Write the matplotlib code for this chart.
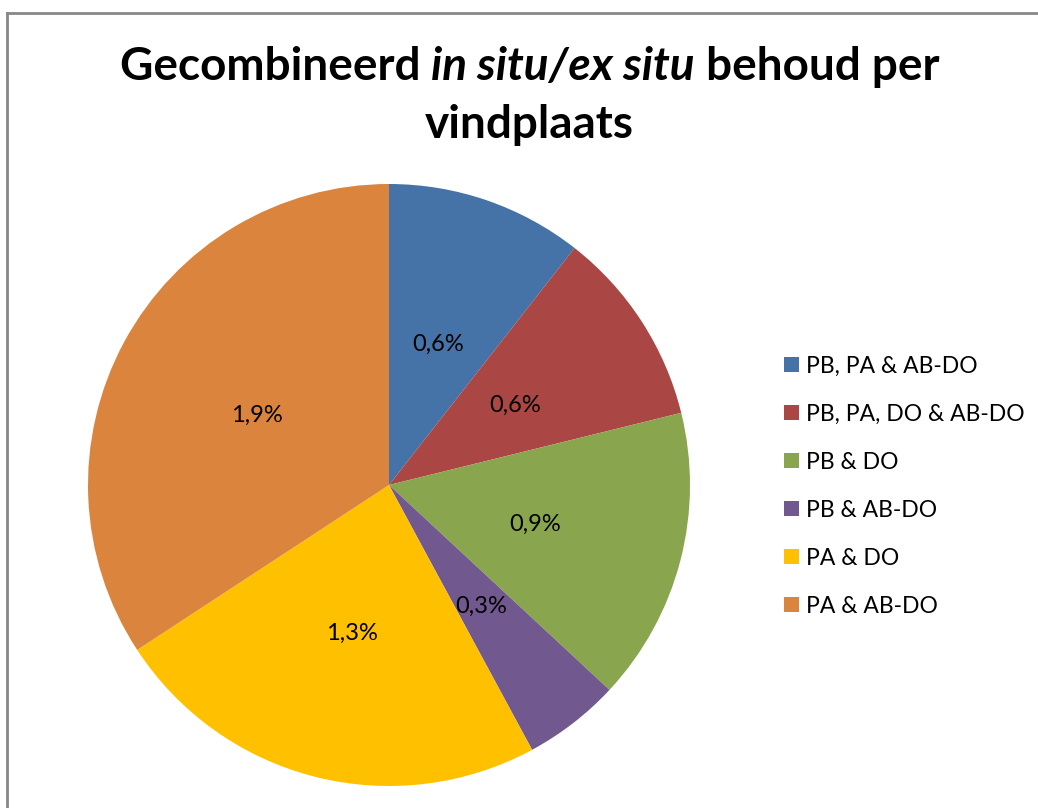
import matplotlib
matplotlib.use('Agg')
import matplotlib.pyplot as plt
from matplotlib.patches import Rectangle
from matplotlib.lines import Line2D

# data (slice sizes, labels as shown)
categories = ['PB, PA & AB-DO', 'PB, PA, DO & AB-DO', 'PB & DO',
              'PB & AB-DO', 'PA & DO', 'PA & AB-DO']
values = [0.59, 0.59, 0.88, 0.29, 1.32, 1.91]
value_labels = ['0,6%', '0,6%', '0,9%', '0,3%', '1,3%', '1,9%']
colors = ['#4572A7', '#AA4643', '#89A54E', '#71588F', '#FFC000', '#DB843D']

FONT = 'Lato'
W, H = 1038, 808
fig = plt.figure(figsize=(W / 100, H / 100), dpi=100)

# pie, centre (389,485) px, radius 301 px
cx, cy, r = 389, 485, 301
ax = fig.add_axes([(cx - r) / W, (H - cy - r) / H, 2 * r / W, 2 * r / H])
wedges, texts = ax.pie(values, colors=colors, startangle=90, counterclock=False,
                       labels=value_labels, labeldistance=0.5,
                       wedgeprops=dict(linewidth=0))
for t in texts:
    t.set_fontfamily(FONT)
    t.set_fontsize(17)
    t.set_ha('center')
    t.set_va('center_baseline')
ax.set_xlim(-1, 1)
ax.set_ylim(-1, 1)
ax.set_aspect('auto')
ax.axis('off')

# chart border (left and top)
fig.add_artist(Line2D([7 / W, 7 / W], [0, (H - 13) / H], color='#888888', lw=2))
fig.add_artist(Line2D([7 / W, 1], [(H - 13) / H, (H - 13) / H], color='#888888', lw=2))

# title with italic part
renderer = fig.canvas.get_renderer()
title_size = 33
line1 = [('Gecombineerd ', 'normal'), ('in situ/ex situ', 'italic'), (' behoud per', 'normal')]
pieces = []
for s, style in line1:
    t = fig.text(0, 0, s, fontsize=title_size, fontweight='bold', style=style,
                 fontfamily=FONT, va='baseline', ha='left')
    pieces.append(t)
widths = [p.get_window_extent(renderer).width for p in pieces]
x0 = 529.5 - sum(widths) / 2
for p, w in zip(pieces, widths):
    p.set_position((x0 / W, (H - 80) / H))
    x0 += w
fig.text(529 / W, (H - 138) / H, 'vindplaats', fontsize=title_size, fontweight='bold',
         fontfamily=FONT, va='baseline', ha='center')

# legend
for i, (lab, col) in enumerate(zip(categories, colors)):
    yc = 364.5 + 48 * i
    fig.add_artist(Rectangle((784 / W, (H - yc - 7.5) / H), 15 / W, 15 / H,
                             facecolor=col, edgecolor='none'))
    fig.text(806 / W, (H - yc) / H, lab, fontsize=16.5, fontfamily=FONT,
             va='center_baseline', ha='left')

fig.savefig('out.png', dpi=100)
